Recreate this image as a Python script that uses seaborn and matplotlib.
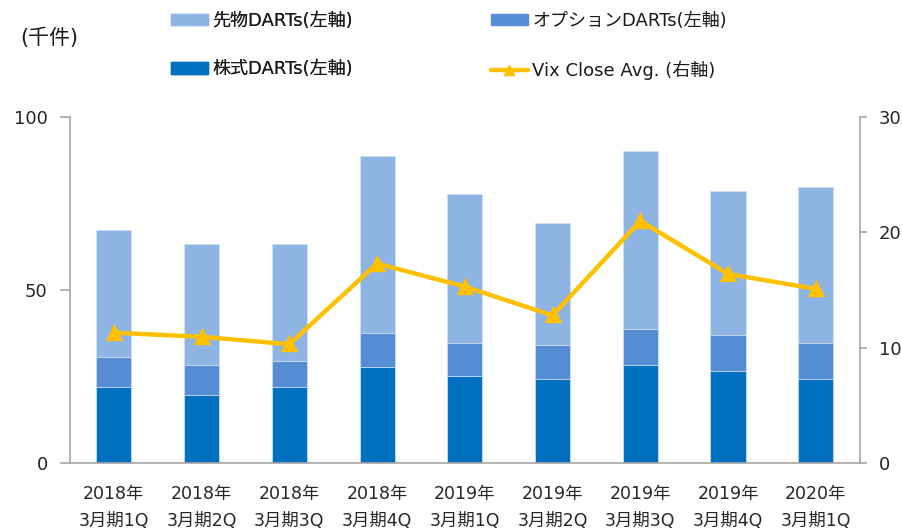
import pandas as pd
import matplotlib.pyplot as plt
import seaborn as sns
from matplotlib.patches import Patch
from matplotlib.lines import Line2D

# values (千件 / index)
quarters = ['2018年\n3月期1Q', '2018年\n3月期2Q', '2018年\n3月期3Q', '2018年\n3月期4Q',
            '2019年\n3月期1Q', '2019年\n3月期2Q', '2019年\n3月期3Q', '2019年\n3月期4Q',
            '2020年\n3月期1Q']
stock_darts = [22.0, 19.7, 22.0, 27.8, 25.2, 24.4, 28.3, 26.7, 24.2]
option_darts = [8.7, 8.6, 7.6, 9.9, 9.4, 9.8, 10.5, 10.3, 10.4]
futures_darts = [36.6, 35.1, 33.8, 51.1, 43.2, 35.2, 51.3, 41.6, 45.3]
vix_avg = [11.3, 10.95, 10.3, 17.3, 15.3, 12.8, 21.0, 16.4, 15.1]

df = pd.DataFrame({'quarter': quarters, 'stock': stock_darts,
                   'option': option_darts, 'futures': futures_darts, 'vix': vix_avg})
df['stock_option'] = df['stock'] + df['option']
df['total'] = df['stock_option'] + df['futures']

c_fut = '#8EB4E3'
c_opt = '#558ED5'
c_stk = '#0070C0'
c_vix = '#FFC000'
grey = '#A6A6A6'

sns.set_style('white')
plt.rcParams['font.family'] = ['DejaVu Sans', 'Noto Sans CJK JP']
plt.rcParams['text.color'] = '#1a1a1a'

fig = plt.figure(figsize=(9.03, 5.30), dpi=100)
ax = fig.add_axes([0.0775, 0.1264, 0.8745, 0.6526])

# stacked bars by overlaying cumulative totals
sns.barplot(data=df, x='quarter', y='total', color=c_fut, width=0.4, saturation=1,
            edgecolor='#cfe0f3', linewidth=0.6, ax=ax)
sns.barplot(data=df, x='quarter', y='stock_option', color=c_opt, width=0.4, saturation=1,
            edgecolor='#cfe0f3', linewidth=0.6, ax=ax)
sns.barplot(data=df, x='quarter', y='stock', color=c_stk, width=0.4, saturation=1,
            edgecolor='#cfe0f3', linewidth=0.6, ax=ax)

ax.set_ylim(0, 100)
ax.set_yticks([0, 50, 100])
ax.set_xlabel('')
ax.set_ylabel('')

ax2 = ax.twinx()
sns.pointplot(data=df, x='quarter', y='vix', color=c_vix, markers='^', markersize=9,
              linewidth=3.2, ax=ax2)
ax2.set_ylim(0, 30)
ax2.set_yticks([0, 10, 20, 30])
ax2.set_ylabel('')
ax.set_xlim(-0.5, len(quarters) - 0.5)
ax2.set_xlim(-0.5, len(quarters) - 0.5)

for a in (ax, ax2):
    for side in ['left', 'right', 'bottom']:
        a.spines[side].set_color(grey)
        a.spines[side].set_linewidth(1.2)
    a.spines['top'].set_visible(False)
ax.spines['right'].set_visible(False)
ax2.spines['left'].set_visible(False)
ax2.spines['bottom'].set_visible(False)

ax.tick_params(axis='y', direction='out', length=7, color=grey, width=1.2,
               labelsize=13, pad=9)
ax2.tick_params(axis='y', direction='out', length=5, color=grey, width=1.2,
                labelsize=13, pad=9)

# category ticks sit between bars, labels centred under bars
ax.set_xticks([i + 0.5 for i in range(-1, len(quarters))], minor=False)
ax.set_xticklabels([])
ax.tick_params(axis='x', direction='out', length=6, color=grey, width=1.2)
ax.set_xticks(range(len(quarters)), minor=True)
ax.set_xticklabels(quarters, minor=True, fontsize=12.5, linespacing=1.6)
ax.tick_params(axis='x', which='minor', length=0, pad=16)

fig.text(0.022, 0.928, '(千件)', fontsize=15, va='center')

leg_kw = dict(loc='upper left', frameon=False, fontsize=13, labelspacing=1.7,
              handlelength=2.05, handleheight=0.6, handletextpad=0.25,
              borderpad=0, borderaxespad=0)
leg1 = fig.legend([Patch(color=c_fut), Patch(color=c_stk)],
                  ['先物DARTs(左軸)', '株式DARTs(左軸)'],
                  bbox_to_anchor=(0.1894, 0.978), **leg_kw)
fig.add_artist(leg1)
fig.legend([Patch(color=c_opt),
            Line2D([], [], color=c_vix, marker='^', linewidth=3.2, markersize=7)],
           ['オプションDARTs(左軸)', 'Vix Close Avg. (右軸)'],
           bbox_to_anchor=(0.5437, 0.978), **leg_kw)

fig.savefig('out.png', dpi=100)
